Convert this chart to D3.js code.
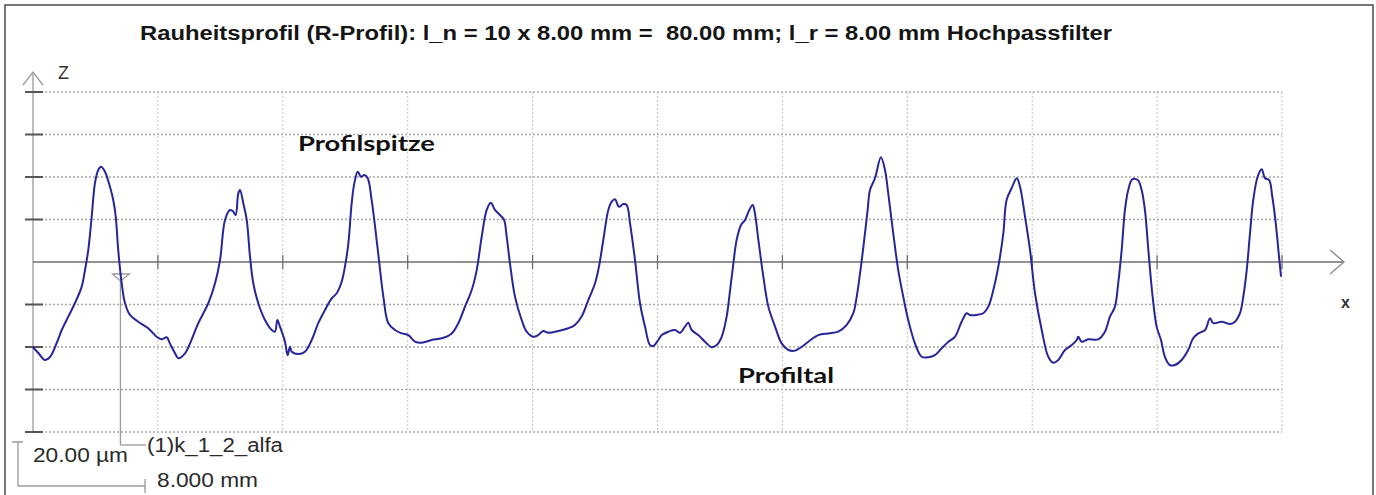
<!DOCTYPE html>
<html>
<head>
<meta charset="utf-8">
<script src="https://cdn.jsdelivr.net/npm/d3@7"></script>
<style>
  body { margin: 0; background: #fff; }
  svg { display: block; }
</style>
</head>
<body>
<div id="chart"></div>
<script>
// R-profile (x in mm, z in µm)
var profile_x = [
  0.0, 0.34, 0.77, 1.09, 1.52, 1.84, 2.26, 2.69, 3.12, 3.33, 3.54, 3.76, 3.97, 4.18, 4.36, 4.61,
  4.93, 5.14, 5.30, 5.46, 5.68, 5.89, 6.21, 6.74, 7.38, 7.92, 8.24, 8.56, 8.77, 9.10, 9.31, 9.74,
  10.06, 10.59, 11.23, 11.66, 11.98, 12.30, 12.62, 12.83, 12.98, 13.15, 13.26, 13.47, 13.69, 13.90,
  14.11, 14.43, 14.86, 15.29, 15.50, 15.65, 15.82, 16.14, 16.31, 16.46, 16.57, 16.99, 17.42, 17.85,
  18.27, 18.70, 19.13, 19.45, 19.77, 19.98, 20.20, 20.41, 20.58, 20.80, 21.01, 21.22, 21.44, 21.69,
  21.91, 22.16, 22.44, 22.76, 23.19, 23.62, 24.04, 24.47, 24.90, 25.54, 26.18, 26.82, 27.24, 27.67,
  28.10, 28.42, 28.74, 29.06, 29.32, 29.59, 29.91, 30.17, 30.34, 30.55, 30.87, 31.30, 31.62, 32.04,
  32.36, 32.68, 33.00, 33.65, 34.29, 34.71, 35.14, 35.57, 36.00, 36.25, 36.53, 36.85, 37.07, 37.28,
  37.53, 37.81, 38.03, 38.24, 38.56, 38.88, 39.20, 39.52, 39.73, 40.05, 40.27, 40.69, 41.12, 41.44,
  41.76, 41.97, 42.19, 42.61, 43.04, 43.47, 43.79, 44.11, 44.43, 44.65, 44.86, 45.07, 45.35, 45.61,
  45.88, 46.10, 46.24, 46.46, 46.78, 47.10, 47.53, 47.95, 48.38, 48.81, 49.24, 49.66, 50.30, 50.95,
  51.58, 52.12, 52.54, 52.76, 53.03, 53.24, 53.46, 53.61, 53.93, 54.31, 54.57, 54.78, 55.10, 55.42,
  55.74, 56.06, 56.49, 56.92, 57.35, 57.77, 58.20, 58.63, 59.05, 59.48, 59.80, 60.01, 60.44, 60.87,
  61.19, 61.51, 61.83, 62.15, 62.36, 62.68, 63.01, 63.22, 63.54, 63.86, 64.18, 64.61, 65.03, 65.35,
  65.67, 66.10, 66.53, 66.85, 66.95, 67.17, 67.59, 68.23, 68.66, 68.98, 69.30, 69.51, 69.73, 69.94,
  70.15, 70.41, 70.76, 71.01, 71.22, 71.44, 71.69, 71.97, 72.25, 72.50, 72.82, 73.14, 73.57, 73.99,
  74.31, 74.64, 75.07, 75.39, 75.60, 76.14, 76.67, 76.99, 77.31, 77.52, 77.74, 77.95, 78.16, 78.44,
  78.70, 78.91, 79.17, 79.38, 79.60, 79.81, 79.94
];
var profile_z = [
  -40.1, -42.8, -46.1, -44.7, -38.1, -32.0, -25.7, -19.3, -11.6, -3.8, 5.6, 21.3, 37.2, 43.3, 44.8, 42.5,
  35.4, 29.2, 21.3, 5.6, -10.0, -19.3, -24.9, -28.1, -31.2, -35.2, -36.4, -35.4, -38.3, -43.0, -45.3, -43.0,
  -38.3, -28.8, -19.4, -10.0, 0.9, 19.8, 24.5, 23.7, 22.0, 32.3, 33.9, 27.6, 19.8, 2.5,
  -10.0, -19.4, -27.3, -32.0, -32.8, -27.3, -30.4, -37.5, -43.8, -39.9, -42.2, -43.3, -42.2, -36.7,
  -28.8, -22.6, -17.1, -14.7, -9.3, -2.2, 8.8, 27.6, 37.0, 42.5, 40.1, 40.9, 39.4, 29.2,
  16.6, 0.9, -16.3, -28.8, -32.0, -33.6, -34.4, -37.5, -38.0, -36.7, -35.9, -33.6, -28.8, -21.0,
  -13.2, -3.8, 11.9, 24.5, 27.9, 24.5, 22.1, 19.8, 11.9, -0.6, -16.3, -27.3, -32.8, -35.2,
  -34.4, -32.5, -33.3, -32.5, -31.2, -29.6, -25.7, -17.9, -10.0, -2.2, 10.4, 24.5, 28.4, 29.5,
  26.0, 27.3, 26.8, 18.2, 0.9, -19.4, -30.4, -39.1, -39.5, -36.7, -34.4, -32.8, -32.0, -33.3,
  -30.4, -28.6, -32.0, -34.4, -37.5, -40.1, -39.1, -35.2, -25.7, -13.2, -0.6, 10.4, 17.4, 19.8,
  24.5, 26.8, 22.9, 10.4, -6.9, -21.0, -30.4, -38.3, -41.4, -41.7, -39.9, -37.5, -34.4, -33.6,
  -32.8, -29.6, -24.1, -16.3, -2.2, 10.4, 24.5, 33.9, 39.4, 49.3, 43.3, 32.3, 13.5, -3.8,
  -16.3, -27.3, -38.3, -44.6, -44.8, -43.8, -40.6, -37.5, -35.2, -28.1, -24.1, -24.9, -24.9, -24.1,
  -21.0, -13.2, -2.2, 13.5, 29.2, 34.7, 39.4, 35.4, 21.3, 5.6, -14.7, -32.0, -44.6, -47.4,
  -46.1, -41.4, -39.1, -36.7, -35.2, -37.5, -36.4, -36.4, -32.8, -25.7, -21.0, -10.0, 5.6, 24.5,
  33.9, 38.9, 38.6, 33.9, 24.5, 5.6, -14.7, -30.4, -36.7, -44.6, -48.5, -48.5, -46.1, -41.4,
  -35.9, -33.6, -32.0, -26.5, -28.8, -28.1, -29.2, -28.1, -24.1, -16.3, -3.8, 13.5, 29.2, 40.1,
  43.6, 39.4, 38.6, 30.7, 18.2, 2.5, -6.9
];

// grid: one division = 8 mm sampling length, 20 µm vertical
var x_grid = [0, 8, 16, 24, 32, 40, 48, 56, 64, 72, 80];
var z_grid = [-80, -60, -40, -20, 0, 20, 40, 60, 80];

var title_text = "Rauheitsprofil (R-Profil): l_n = 10 x 8.00 mm =  80.00 mm; l_r = 8.00 mm Hochpassfilter";
var cursor_x = 5.6;  // mm, position of the profile cursor
var cursor_label = "(1)k_1_2_alfa";
var z_scale_label = "20.00 µm";
var x_scale_label = "8.000 mm";

var width = 1376;
var height = 495;

var svg = d3.select("#chart").append("svg")
  .attr("width", width)
  .attr("height", height);

var x = d3.scaleLinear().domain([0, 80]).range([33, 1282]);
var z = d3.scaleLinear().domain([-80, 80]).range([432, 92]);

// frame
svg.append("rect")
  .attr("x", 5).attr("y", 5)
  .attr("width", 1368).attr("height", 500)
  .attr("fill", "none")
  .attr("stroke", "#4a4a4a")
  .attr("stroke-width", 1.5);

// title
svg.append("text")
  .attr("x", 140).attr("y", 40)
  .attr("font-family", "Liberation Sans, Arial, sans-serif")
  .attr("font-weight", "bold")
  .attr("font-size", 20)
  .attr("fill", "#151515")
  .attr("textLength", 972)
  .attr("lengthAdjust", "spacingAndGlyphs")
  .style("white-space", "pre")
  .text(title_text);

// GRID
var grid = svg.append("g").attr("class", "grid");

grid.selectAll(".hgrid")
  .data(z_grid.filter(function(d) { return d != 0; }))
  .enter().append("line")
    .attr("class", "hgrid")
    .attr("x1", x(0)).attr("x2", x(80))
    .attr("y1", function(d) { return z(d); })
    .attr("y2", function(d) { return z(d); })
    .attr("stroke", "#a8a8a8")
    .attr("stroke-width", 1.4)
    .attr("stroke-dasharray", "2,2");

grid.selectAll(".vgrid")
  .data(x_grid.slice(1))
  .enter().append("line")
    .attr("class", "vgrid")
    .attr("x1", function(d) { return x(d); })
    .attr("x2", function(d) { return x(d); })
    .attr("y1", z(80)).attr("y2", z(-80))
    .attr("stroke", "#c4c4c4")
    .attr("stroke-width", 1)
    .attr("stroke-dasharray", "2,2");

// AXES
var axes = svg.append("g").attr("class", "axes")
  .attr("stroke", "#7a7a7a")
  .attr("fill", "none");

// z axis
axes.append("line")
  .attr("x1", x(0)).attr("x2", x(0))
  .attr("y1", 74).attr("y2", z(-80))
  .attr("stroke", "#9a9a9a")
  .attr("stroke-width", 1.3);
axes.append("path")
  .attr("d", "M" + (x(0) - 10) + ",85L" + x(0) + ",72L" + (x(0) + 10) + ",85")
  .attr("stroke", "#9a9a9a")
  .attr("stroke-width", 1.3);

axes.selectAll(".ztick")
  .data(z_grid.filter(function(d) { return d != 0; }))
  .enter().append("line")
    .attr("class", "ztick")
    .attr("x1", x(0) - 8).attr("x2", x(0) + 10)
    .attr("y1", function(d) { return z(d); })
    .attr("y2", function(d) { return z(d); })
    .attr("stroke", "#555")
    .attr("stroke-width", 2);

// x axis
axes.append("line")
  .attr("x1", x(0)).attr("x2", 1344)
  .attr("y1", z(0)).attr("y2", z(0))
  .attr("stroke", "#6e6e6e")
  .attr("stroke-width", 1.6);
axes.append("path")
  .attr("d", "M1330," + (z(0) - 12) + "L1344," + z(0) + "L1330," + (z(0) + 12))
  .attr("stroke", "#8a8a8a")
  .attr("stroke-width", 1.3);

axes.selectAll(".xtick")
  .data(x_grid.slice(1))
  .enter().append("line")
    .attr("class", "xtick")
    .attr("x1", function(d) { return x(d); })
    .attr("x2", function(d) { return x(d); })
    .attr("y1", z(0) - 7).attr("y2", z(0) + 7)
    .attr("stroke", "#666")
    .attr("stroke-width", 1.2);

svg.append("text")
  .attr("x", 58).attr("y", 79)
  .attr("font-family", "Liberation Sans, Arial, sans-serif")
  .attr("font-size", 18)
  .attr("fill", "#333")
  .text("Z");

svg.append("text")
  .attr("x", 1341).attr("y", 308)
  .attr("font-family", "Liberation Sans, Arial, sans-serif")
  .attr("font-weight", "bold")
  .attr("font-size", 16)
  .attr("fill", "#333")
  .text("x");

// CURSOR
var cx = x(cursor_x);
var cursor = svg.append("g").attr("class", "cursor")
  .attr("stroke", "#9a9a9a")
  .attr("fill", "none")
  .attr("stroke-width", 1.3);
cursor.append("line")
  .attr("x1", cx).attr("x2", cx)
  .attr("y1", 276).attr("y2", 445);
cursor.append("line")
  .attr("x1", cx).attr("x2", 146)
  .attr("y1", 445).attr("y2", 445);
cursor.append("path")
  .attr("d", "M" + (cx - 8) + ",274L" + (cx + 9) + ",274L" + cx + ",281Z");

svg.append("text")
  .attr("x", 147).attr("y", 452)
  .attr("font-family", "Liberation Sans, Arial, sans-serif")
  .attr("font-size", 20)
  .attr("fill", "#2a2a2a")
  .attr("textLength", 136)
  .attr("lengthAdjust", "spacingAndGlyphs")
  .text(cursor_label);

// SCALE BAR
var bar = svg.append("g").attr("class", "scalebar")
  .attr("stroke", "#9a9a9a")
  .attr("fill", "none")
  .attr("stroke-width", 1.3);
bar.append("path")
  .attr("d", "M12,442L23,442M18,442L18,486L145,486M145,479L145,493");

svg.append("text")
  .attr("x", 33).attr("y", 462)
  .attr("font-family", "Liberation Sans, Arial, sans-serif")
  .attr("font-size", 20)
  .attr("fill", "#2a2a2a")
  .attr("textLength", 95)
  .attr("lengthAdjust", "spacingAndGlyphs")
  .text(z_scale_label);

svg.append("text")
  .attr("x", 157).attr("y", 487)
  .attr("font-family", "Liberation Sans, Arial, sans-serif")
  .attr("font-size", 20)
  .attr("fill", "#2a2a2a")
  .attr("textLength", 101)
  .attr("lengthAdjust", "spacingAndGlyphs")
  .text(x_scale_label);

// PROFILE
var profile = d3.zip(profile_x, profile_z);
var line = d3.line()
  .x(function(d) { return x(d[0]); })
  .y(function(d) { return z(d[1]); })
  .curve(d3.curveCatmullRom.alpha(0.5));

svg.append("path")
  .datum(profile)
  .attr("fill", "none")
  .attr("stroke", "#26269a")
  .attr("stroke-width", 2)
  .attr("stroke-linejoin", "round")
  .attr("d", line);

// annotations
svg.append("text")
  .attr("x", 298).attr("y", 151)
  .attr("font-family", "Lato, Noto Sans, sans-serif")
  .attr("font-weight", "bold")
  .attr("font-size", 21)
  .attr("fill", "#111")
  .attr("textLength", 137)
  .attr("lengthAdjust", "spacingAndGlyphs")
  .text("Profilspitze");

svg.append("text")
  .attr("x", 738).attr("y", 383)
  .attr("font-family", "Lato, Noto Sans, sans-serif")
  .attr("font-weight", "bold")
  .attr("font-size", 21)
  .attr("fill", "#111")
  .attr("textLength", 96)
  .attr("lengthAdjust", "spacingAndGlyphs")
  .text("Profiltal");
</script>
</body>
</html>
